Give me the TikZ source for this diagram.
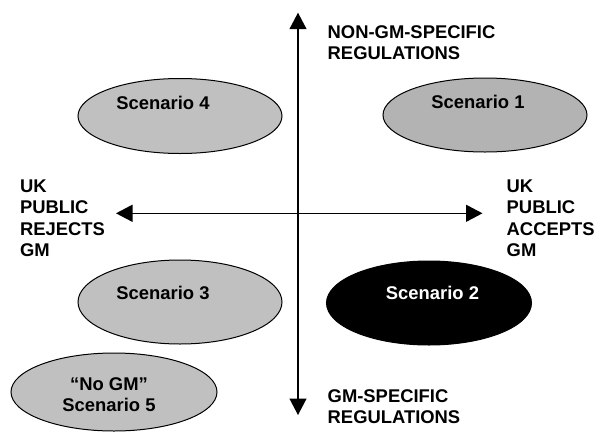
\documentclass[tikz,border=0pt]{standalone}
\usepackage{fontspec}
\setmainfont{Liberation Sans}
\usetikzlibrary{arrows.meta,calc,shapes.geometric}
\definecolor{lightgrey}{HTML}{C0C0C0}
\definecolor{midgrey}{HTML}{B3B3B3}
\begin{document}
\begin{tikzpicture}[x=1pt,y=-1pt,
  every node/.style={font=\bfseries\fontsize{18.4}{21.2}\selectfont},
  scen/.style={ellipse,draw=black,line width=1pt,inner sep=0pt},
  lbl/.style={anchor=base,inner sep=0pt,align=center},
  axislabel/.style={anchor=base west,inner sep=0pt,align=left},
  axis/.style={line width=1.3pt,-{Triangle[length=16.5pt,width=17pt]}}]
\useasboundingbox (0,0) rectangle (595,432);

% axes
\coordinate (top) at (298,12.7);
\coordinate (bottom) at (298,415);
\coordinate (left) at (116,213.3);
\coordinate (right) at (482.5,213.3);
\coordinate (origin) at (298,213.3);
\draw[axis] (origin) -- (top);
\draw[axis] (origin) -- (bottom);
\draw[axis] (origin) -- (left);
\draw[axis] (origin) -- (right);

% axis labels (anchored on the baseline of their last line)
\node[axislabel] (nongm) at (327.5,59.3) {NON-GM-SPECIFIC\\REGULATIONS};
\node[axislabel] (gmspec) at (327.5,423.3) {GM-SPECIFIC\\REGULATIONS};
\node[axislabel] (rejects) at (19.8,256.3) {UK\\PUBLIC\\REJECTS\\GM};
\node[axislabel] (accepts) at (506.5,256.3) {UK\\PUBLIC\\ACCEPTS\\GM};

% scenario ellipses
\node[scen,fill=lightgrey,minimum width=204pt,minimum height=75pt] (s4) at (180,116) {};
\node[scen,fill=midgrey,minimum width=204pt,minimum height=74pt] (s1) at (485,115) {};
\node[scen,fill=lightgrey,minimum width=204pt,minimum height=84pt] (s3) at (180,302) {};
\node[scen,fill=black,minimum width=205pt,minimum height=84pt] (s2) at (429,303) {};
\node[scen,fill=lightgrey,minimum width=206pt,minimum height=78pt] (s5) at (114,392) {};

% scenario names
\node[lbl] (t4) at (163,109) {Scenario 4};
\node[lbl] (t1) at (478,108) {Scenario 1};
\node[lbl] (t3) at (163,299) {Scenario 3};
\node[lbl,text=white] (t2) at (432.5,299) {Scenario 2};
\node[lbl] (t5) at (109,411.7) {“No GM”\\Scenario 5};
\end{tikzpicture}
\end{document}
